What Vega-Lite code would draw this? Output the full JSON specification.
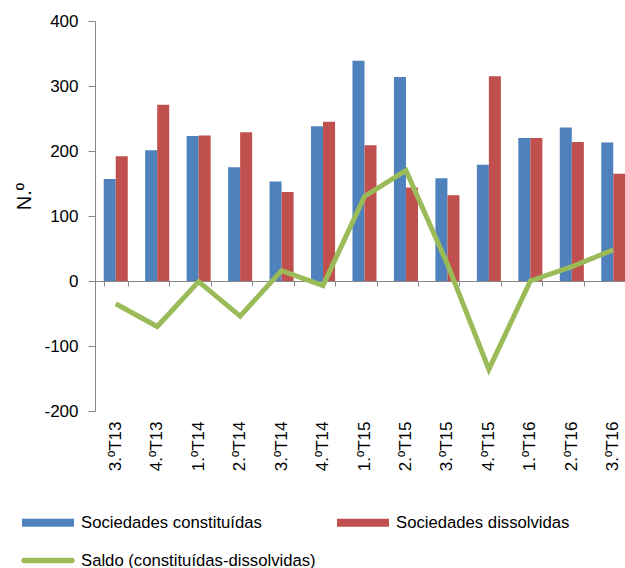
{
  "$schema": "https://vega.github.io/schema/vega-lite/v6.json",
  "autosize": {"type": "none"},
  "padding": {"left": 95, "top": 21, "right": 0, "bottom": 157},
  "width": 530,
  "height": 390,
  "config": {
    "font": "Liberation Sans",
    "view": {"stroke": null},
    "axis": {"grid": false, "domainColor": "#868686", "tickColor": "#868686", "labelColor": "#000000", "titleColor": "#000000"}
  },
  "data": {
    "values": [
      {"q": "3.ºT13", "s": "Sociedades constituídas", "v": 157},
      {"q": "4.ºT13", "s": "Sociedades constituídas", "v": 201},
      {"q": "1.ºT14", "s": "Sociedades constituídas", "v": 223},
      {"q": "2.ºT14", "s": "Sociedades constituídas", "v": 175},
      {"q": "3.ºT14", "s": "Sociedades constituídas", "v": 153},
      {"q": "4.ºT14", "s": "Sociedades constituídas", "v": 238},
      {"q": "1.ºT15", "s": "Sociedades constituídas", "v": 339},
      {"q": "2.ºT15", "s": "Sociedades constituídas", "v": 314},
      {"q": "3.ºT15", "s": "Sociedades constituídas", "v": 158},
      {"q": "4.ºT15", "s": "Sociedades constituídas", "v": 179},
      {"q": "1.ºT16", "s": "Sociedades constituídas", "v": 220},
      {"q": "2.ºT16", "s": "Sociedades constituídas", "v": 236},
      {"q": "3.ºT16", "s": "Sociedades constituídas", "v": 213},
      {"q": "3.ºT13", "s": "Sociedades dissolvidas", "v": 192},
      {"q": "4.ºT13", "s": "Sociedades dissolvidas", "v": 271},
      {"q": "1.ºT14", "s": "Sociedades dissolvidas", "v": 224},
      {"q": "2.ºT14", "s": "Sociedades dissolvidas", "v": 229},
      {"q": "3.ºT14", "s": "Sociedades dissolvidas", "v": 137},
      {"q": "4.ºT14", "s": "Sociedades dissolvidas", "v": 245},
      {"q": "1.ºT15", "s": "Sociedades dissolvidas", "v": 209},
      {"q": "2.ºT15", "s": "Sociedades dissolvidas", "v": 144},
      {"q": "3.ºT15", "s": "Sociedades dissolvidas", "v": 132},
      {"q": "4.ºT15", "s": "Sociedades dissolvidas", "v": 315},
      {"q": "1.ºT16", "s": "Sociedades dissolvidas", "v": 220},
      {"q": "2.ºT16", "s": "Sociedades dissolvidas", "v": 214},
      {"q": "3.ºT16", "s": "Sociedades dissolvidas", "v": 165},
      {"q": "3.ºT13", "s": "Saldo (constituídas-dissolvidas)", "v": -35},
      {"q": "4.ºT13", "s": "Saldo (constituídas-dissolvidas)", "v": -70},
      {"q": "1.ºT14", "s": "Saldo (constituídas-dissolvidas)", "v": -1},
      {"q": "2.ºT14", "s": "Saldo (constituídas-dissolvidas)", "v": -54},
      {"q": "3.ºT14", "s": "Saldo (constituídas-dissolvidas)", "v": 16},
      {"q": "4.ºT14", "s": "Saldo (constituídas-dissolvidas)", "v": -7},
      {"q": "1.ºT15", "s": "Saldo (constituídas-dissolvidas)", "v": 130},
      {"q": "2.ºT15", "s": "Saldo (constituídas-dissolvidas)", "v": 170},
      {"q": "3.ºT15", "s": "Saldo (constituídas-dissolvidas)", "v": 26},
      {"q": "4.ºT15", "s": "Saldo (constituídas-dissolvidas)", "v": -136},
      {"q": "1.ºT16", "s": "Saldo (constituídas-dissolvidas)", "v": 0},
      {"q": "2.ºT16", "s": "Saldo (constituídas-dissolvidas)", "v": 22},
      {"q": "3.ºT16", "s": "Saldo (constituídas-dissolvidas)", "v": 48}
    ]
  },
  "encoding": {
    "x": {
      "field": "q", "type": "nominal", "sort": null,
      "scale": {"range": [0, 539], "paddingInner": 0.42, "paddingOuter": 0.21}
    },
    "y": {
      "field": "v", "type": "quantitative",
      "scale": {"domain": [-200, 400], "nice": false, "zero": false},
      "axis": {
        "values": [-200, -100, 0, 100, 200, 300, 400],
        "labelExpr": "replace(datum.label, '−', '-')",
        "title": "N.º", "titleFontSize": 20, "titleFontWeight": "normal",
        "titleAngle": -90, "titleX": -65, "titleY": 175, "titleBaseline": "alphabetic", "titleAlign": "center",
        "labelFontSize": 17, "tickSize": 7, "labelPadding": 10
      }
    },
    "color": {
      "field": "s", "type": "nominal",
      "scale": {
        "domain": ["Sociedades constituídas", "Sociedades dissolvidas", "Saldo (constituídas-dissolvidas)"],
        "range": ["#4F81BD", "#C0504D", "#9BBB59"]
      },
      "legend": {
        "title": null, "orient": "none", "legendX": -73, "legendY": 491.5,
        "direction": "horizontal", "columns": 2, "columnPadding": 21, "rowPadding": 19, "padding": 0,
        "symbolType": "M-2.6,-0.4H2.6V0.4H-2.6Z", "symbolSize": 400, "symbolStrokeWidth": 0, "symbolOffset": 16,
        "labelOffset": 23, "labelFontSize": 16.7, "labelColor": "#000000", "labelLimit": 400,
        "encode": {
          "symbols": {
            "update": {
              "fill": {"scale": "color", "field": "value"},
              "fillOpacity": {"value": 1},
              "stroke": {"value": "transparent"},
              "shape": {"signal": "datum.value === 'Saldo (constituídas-dissolvidas)' ? 'M-2.4,-0.28H2.4A0.28,0.28 0 0 1 2.4,0.28H-2.4A0.28,0.28 0 0 1 -2.4,-0.28Z' : 'M-2.6,-0.4H2.6V0.4H-2.6Z'"}
            }
          }
        }
      }
    }
  },
  "layer": [
    {
      "transform": [{"filter": {"field": "s", "oneOf": ["Sociedades constituídas", "Sociedades dissolvidas"]}}],
      "mark": {"type": "bar"},
      "encoding": {
        "x": {
          "field": "q", "type": "nominal", "sort": null,
          "axis": {"title": null, "orient": "bottom", "domain": false, "ticks": false, "tickSize": 0, "labelAngle": 270, "labelFontSize": 17, "labelPadding": 10}
        },
        "xOffset": {"field": "s", "type": "nominal", "sort": ["Sociedades constituídas", "Sociedades dissolvidas"]}
      }
    },
    {
      "transform": [{"filter": {"field": "s", "equal": "Saldo (constituídas-dissolvidas)"}}],
      "mark": {"type": "line", "strokeWidth": 5},
      "encoding": {
        "x": {
          "field": "q", "type": "nominal", "sort": null,
          "axis": {"title": null, "orient": "bottom", "offset": -130, "labels": false, "domain": true, "ticks": true, "tickBand": "extent", "tickSize": 5}
        }
      }
    }
  ],
  "resolve": {"axis": {"x": "independent"}}
}
